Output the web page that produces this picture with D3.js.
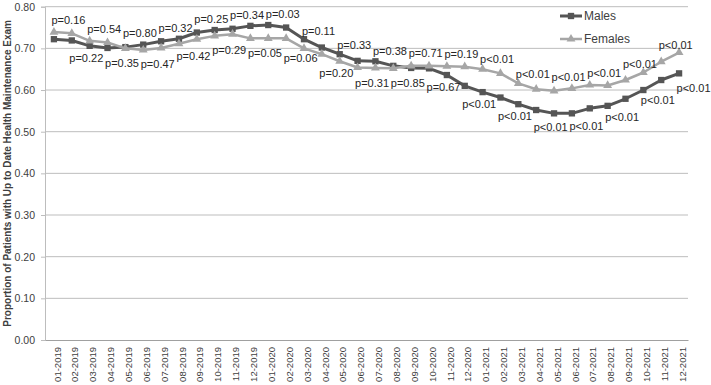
<!DOCTYPE html>
<html>
<head>
<meta charset="utf-8">
<script src="https://cdn.jsdelivr.net/npm/d3@7"></script>
<style>
  body { margin: 0; background: #fff; }
  svg { display: block; font-family: "Liberation Sans", Arial, sans-serif; }
</style>
</head>
<body>
<div id="chart"></div>
<script>
// data
const months = ["01-2019","02-2019","03-2019","04-2019","05-2019","06-2019","07-2019","08-2019","09-2019","10-2019","11-2019","12-2019",
  "01-2020","02-2020","03-2020","04-2020","05-2020","06-2020","07-2020","08-2020","09-2020","10-2020","11-2020","12-2020",
  "01-2021","02-2021","03-2021","04-2021","05-2021","06-2021","07-2021","08-2021","09-2021","10-2021","11-2021","12-2021"];

const males = [0.722,0.719,0.706,0.701,0.703,0.709,0.717,0.723,0.738,0.744,0.747,0.754,
  0.756,0.750,0.722,0.702,0.686,0.670,0.669,0.658,0.653,0.652,0.636,0.610,
  0.595,0.582,0.566,0.552,0.544,0.544,0.556,0.562,0.579,0.600,0.624,0.640];

const females = [0.739,0.736,0.718,0.714,0.700,0.696,0.701,0.711,0.722,0.730,0.734,0.724,
  0.724,0.724,0.700,0.686,0.669,0.654,0.653,0.652,0.658,0.658,0.657,0.656,
  0.650,0.640,0.616,0.602,0.598,0.604,0.612,0.611,0.624,0.642,0.668,0.690];

const pLabels = ["p=0.16","p=0.22","p=0.54","p=0.35","p=0.80","p=0.47","p=0.32","p=0.42","p=0.25","p=0.29","p=0.34","p=0.05",
  "p=0.03","p=0.06","p=0.11","p=0.20","p=0.33","p=0.31","p=0.38","p=0.85","p=0.71","p=0.67","p=0.19","p<0.01",
  "p<0.01","p<0.01","p<0.01","p<0.01","p<0.01","p<0.01","p<0.01","p<0.01","p<0.01","p<0.01","p<0.01","p<0.01"];

const yTicks = [0, 0.1, 0.2, 0.3, 0.4, 0.5, 0.6, 0.7, 0.8];

const series = [
  { name: "Males", values: males, color: "#555555", marker: d3.symbolSquare, size: 40, width: 3 },
  { name: "Females", values: females, color: "#a6a6a6", marker: d3.symbolTriangle, size: 34, width: 2.5 }
];

const W = 711, H = 385;
const margin = { top: 6.7, right: 23, bottom: 45, left: 45 };

const svg = d3.select("#chart").append("svg")
  .attr("width", W)
  .attr("height", H);

const x = d3.scaleBand()
  .domain(months)
  .range([margin.left, W - margin.right]);

const y = d3.scaleLinear()
  .domain([0, 0.8])
  .range([H - margin.bottom, margin.top]);

const cx = d => x(d) + x.bandwidth() / 2;

// gridlines
svg.append("g")
  .selectAll("line")
  .data(yTicks.slice(1))
  .join("line")
  .attr("x1", margin.left)
  .attr("x2", W - margin.right)
  .attr("y1", d => y(d))
  .attr("y2", d => y(d))
  .attr("stroke", "#bdbdbd")
  .attr("stroke-width", 1);

// y axis
const yAxis = svg.append("g")
  .attr("transform", `translate(${margin.left},0)`)
  .call(d3.axisLeft(y).tickValues(yTicks).tickFormat(d3.format(".2f")).tickSize(4).tickPadding(6));
yAxis.select(".domain").attr("stroke", "#bdbdbd");
yAxis.selectAll(".tick line").attr("stroke", "#bdbdbd");
yAxis.selectAll("text").attr("fill", "#404040").style("font-size", "10.5px");

// x axis
const xAxis = svg.append("g")
  .attr("transform", `translate(0,${y(0)})`)
  .call(d3.axisBottom(x).tickSize(0));
xAxis.select(".domain").attr("stroke", "#a0a0a0");
xAxis.selectAll("text")
  .attr("fill", "#404040")
  .style("font-size", "9.5px")
  .style("text-anchor", "end")
  .attr("transform", "rotate(-90)")
  .attr("x", -7)
  .attr("y", 0)
  .attr("dy", "0.7em");

// y axis title
svg.append("text")
  .attr("transform", `translate(10.5,${(margin.top + y(0)) / 2}) rotate(-90)`)
  .attr("text-anchor", "middle")
  .attr("fill", "#404040")
  .style("font-size", "10px")
  .style("font-weight", "bold")
  .text("Proportion of Patients with Up to Date Health Maintenance Exam");

// lines + markers
const line = d3.line()
  .x((d, i) => cx(months[i]))
  .y(d => y(d));

series.forEach(s => {
  svg.append("path")
    .datum(s.values)
    .attr("fill", "none")
    .attr("stroke", s.color)
    .attr("stroke-width", s.width)
    .attr("stroke-linejoin", "round")
    .attr("d", line);

  svg.append("g")
    .selectAll("path")
    .data(s.values)
    .join("path")
    .attr("d", d3.symbol().type(s.marker).size(s.size))
    .attr("transform", (d, i) => `translate(${cx(months[i])},${y(d)})`)
    .attr("fill", s.color);
});

// p-value labels sit to the right of their month, alternating above / below
// the two lines (averaged over this point and the next, which the label covers)
const span = (i, f) => {
  const here = y(f(males[i], females[i]));
  if (i + 1 >= months.length) return here;
  return (here + y(f(males[i + 1], females[i + 1]))) / 2;
};

svg.append("g")
  .selectAll("text")
  .data(pLabels)
  .join("text")
  .attr("x", (d, i) => cx(months[i]) + 14.5)
  .attr("y", (d, i) => i % 2 === 0 ? span(i, Math.max) - 8.5 : span(i, Math.min) + 19)
  .attr("text-anchor", "middle")
  .attr("fill", "#262626")
  .style("font-size", "11px")
  .text(d => d);

// legend
const legend = svg.append("g")
  .attr("transform", "translate(560,16)");

series.forEach((s, i) => {
  const g = legend.append("g").attr("transform", `translate(0,${i * 23})`);
  g.append("line")
    .attr("x1", 0).attr("x2", 22)
    .attr("stroke", s.color)
    .attr("stroke-width", s.width);
  g.append("path")
    .attr("d", d3.symbol().type(s.marker).size(s.size))
    .attr("transform", "translate(11,0)")
    .attr("fill", s.color);
  g.append("text")
    .attr("x", 24)
    .attr("dy", "0.35em")
    .attr("fill", "#404040")
    .style("font-size", "12px")
    .text(s.name);
});
</script>
</body>
</html>
